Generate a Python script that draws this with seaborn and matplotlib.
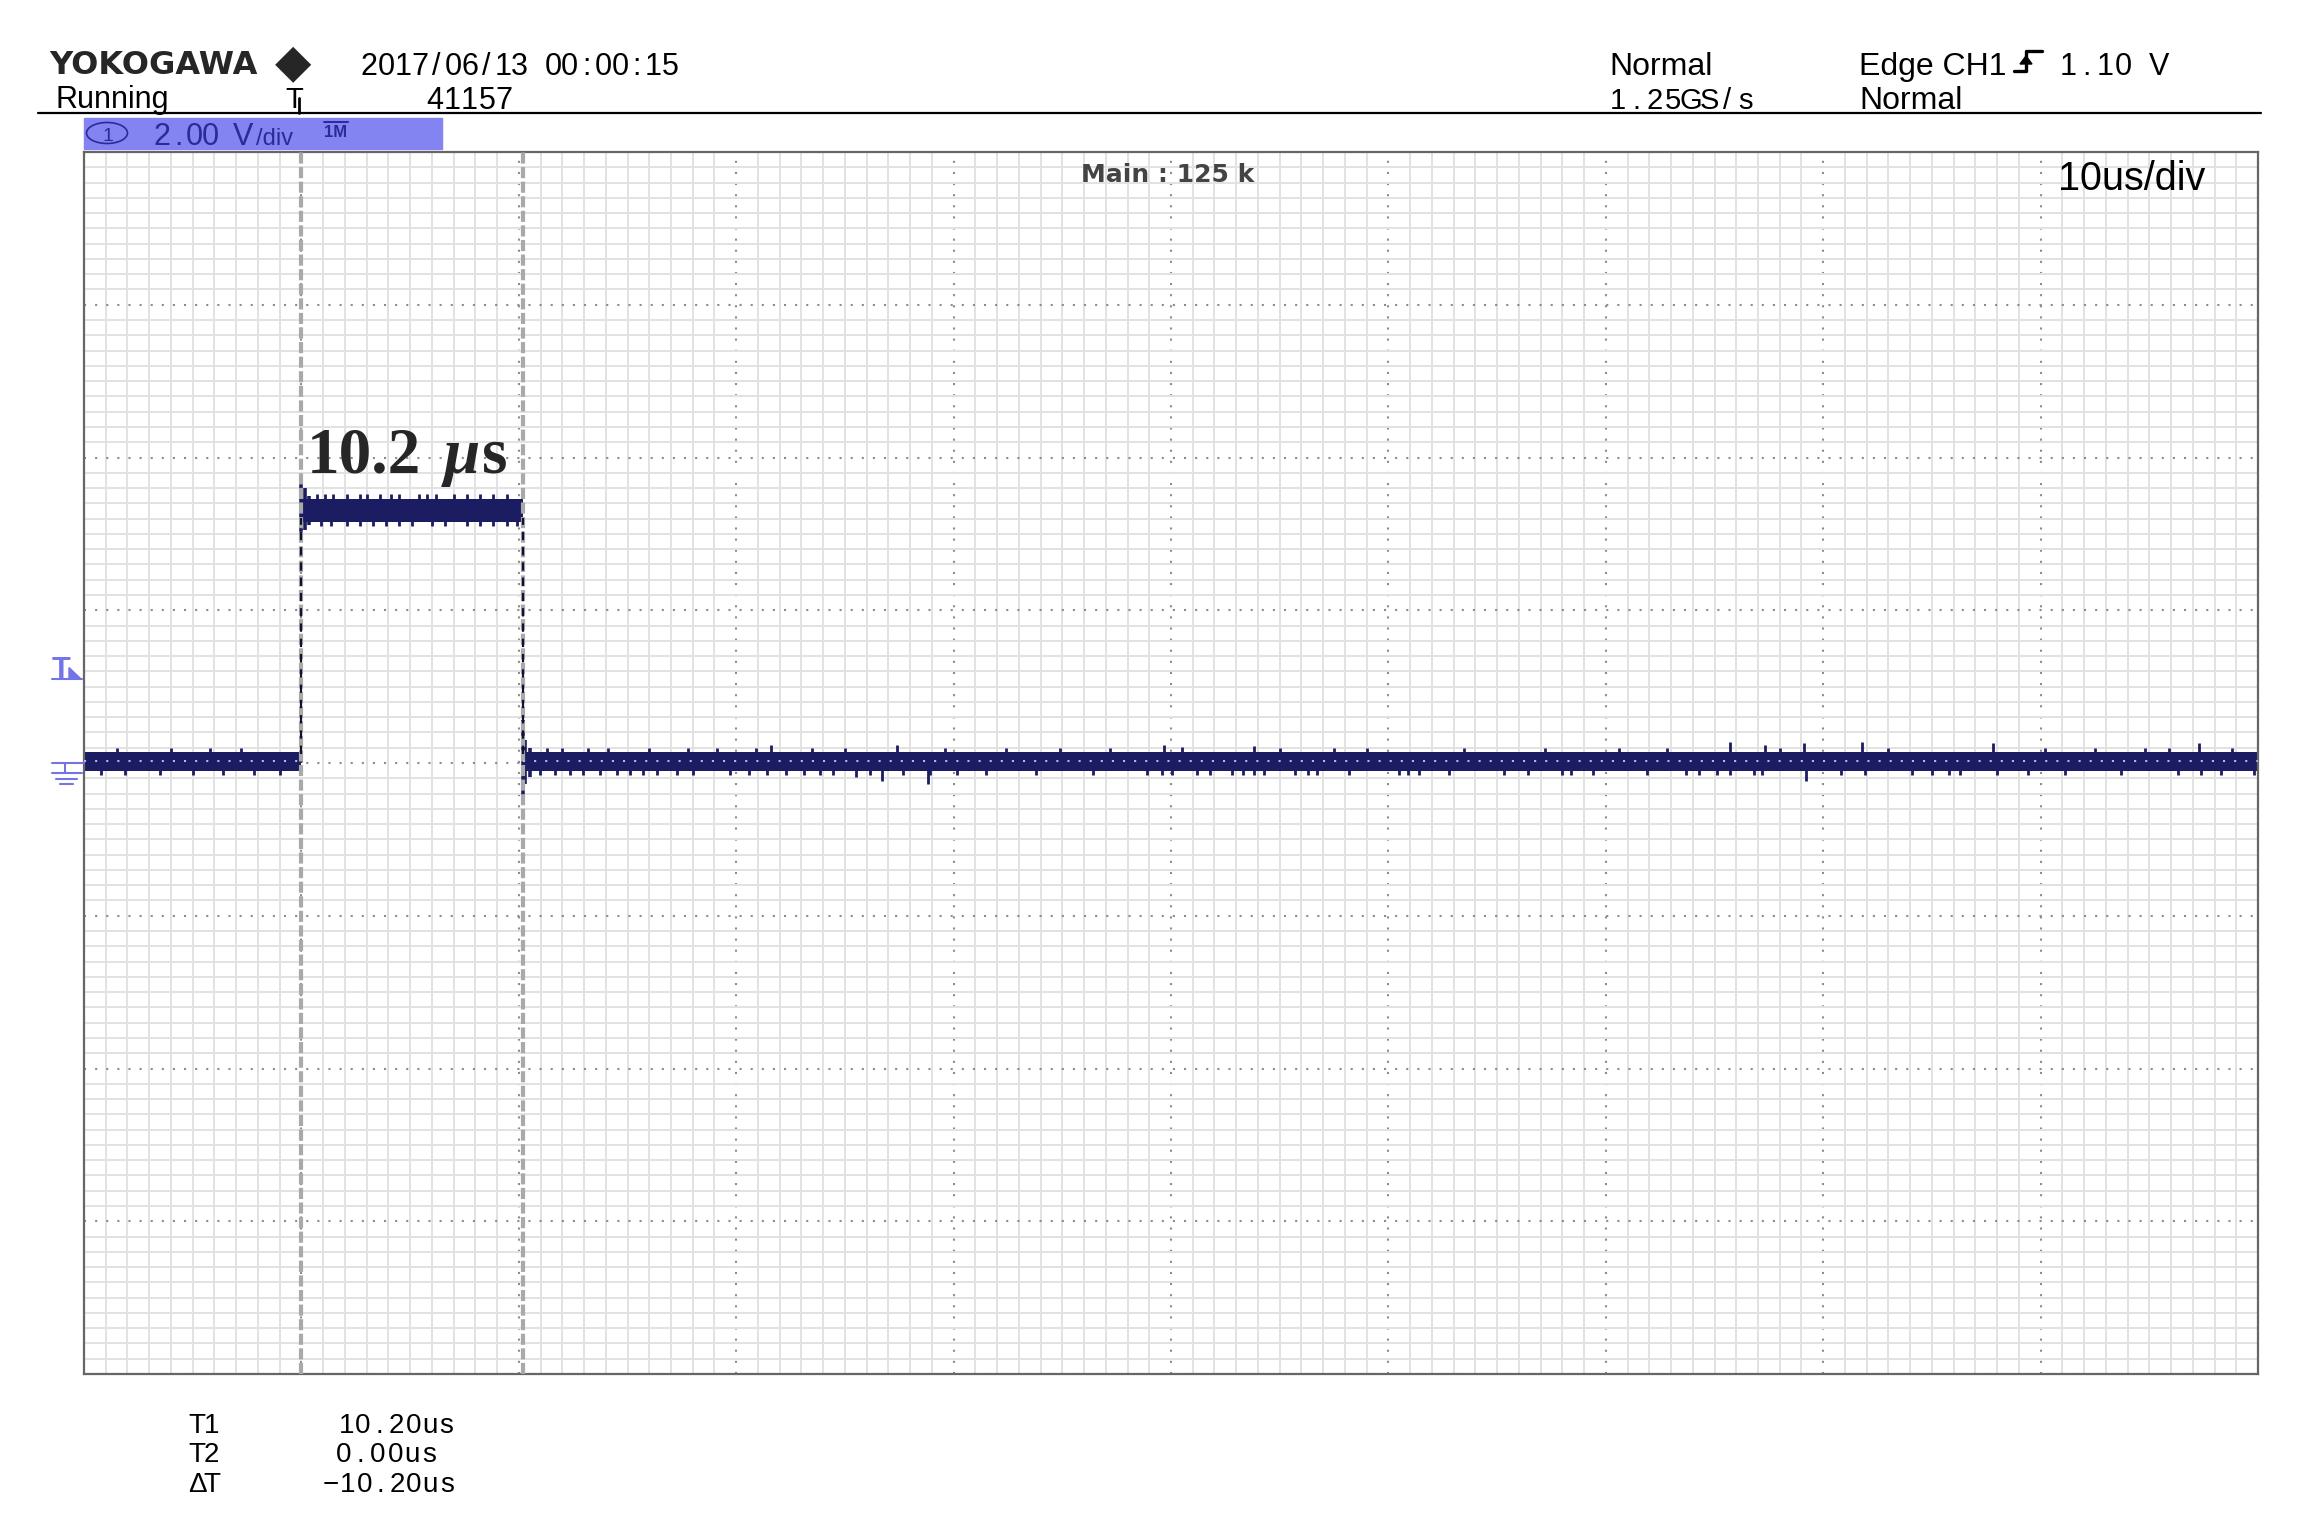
import numpy as np
import pandas as pd
import matplotlib.pyplot as plt
from matplotlib.lines import Line2D
from matplotlib.patches import Rectangle, Ellipse, Polygon
from matplotlib.transforms import blended_transform_factory
import seaborn as sns

# Waveform (time in us, level in V)
seg_start = [-10.0, 0.0, 10.2]
seg_end = [0.0, 10.2, 90.0]
seg_level = [0.02, 3.31, 0.02]
seg_noise = [0.12, 0.15, 0.12]   # half height of the noise band, V

# ringing right after the two edges
ring_t = [0.0, 0.15, 0.35, 10.2, 10.3, 10.5]
ring_lo = [3.0, 3.05, 3.12, -0.45, -0.28, -0.18]
ring_hi = [3.75, 3.6, 3.5, 0.56, 0.3, 0.2]

# small noise ticks sticking out of the band
tick_up_t = [-8.5, -6.0, -4.2, -2.8, 0.7, 1.1, 1.45, 2.1, 2.7, 3.0, 3.6, 4.1,
             4.5, 5.4, 5.8, 6.2, 7.0, 7.6, 8.2, 8.8, 9.45, 11.3, 12.0, 13.2,
             14.1, 16.0, 17.8, 19.1, 20.9, 23.5, 25.0, 29.6, 32.4, 34.9, 37.2,
             45.0, 47.5, 49.0, 53.5, 57.2, 60.6, 62.8, 68.0, 73.0, 80.2, 82.5,
             84.8, 85.9, 88.8]
tick_down_t = [-9.2, -8.1, -6.5, -5.0, -3.6, -2.2, -1.0, 0.9, 1.35, 2.1, 2.7,
               3.3, 3.9, 4.5, 5.1, 6.0, 6.6, 7.6, 8.2, 8.8, 9.45, 9.9, 10.97,
               11.67, 12.36, 12.95, 13.73, 14.5, 15.1, 15.7, 16.35, 17.27,
               18.0, 19.7, 20.6, 21.4, 22.3, 23.1, 23.85, 24.45, 26.15, 27.67,
               28.9, 30.15, 31.5, 33.8, 36.4, 38.9, 39.6, 40.05, 41.2, 41.8,
               42.8, 43.3, 43.8, 44.3, 45.7, 46.3, 46.7, 48.2, 50.5, 50.9,
               51.4, 52.8, 55.3, 56.4, 58.0, 58.4, 59.4, 61.9, 63.7, 64.3,
               65.1, 66.8, 67.2, 70.8, 71.9, 74.1, 75.0, 75.8, 76.3, 78.0,
               79.4, 81.1, 83.7, 86.3, 87.4, 88.3, 89.8]
tick_extra = 0.06   # how far a tick pokes out past the band, V

# bigger glitches
spike_t = [21.6, 27.4, 39.7, 40.5, 43.8, 65.7, 67.3, 69.1, 71.8, 77.8, 87.3,
           25.5, 26.7, 28.8, 65.7, 69.2]
spike_dv = [0.21, 0.21, 0.21, 0.19, 0.2, 0.26, 0.22, 0.24, 0.26, 0.24, 0.24,
            -0.2, -0.26, -0.3, -0.18, -0.25]

# scope settings
cursor_t1 = 10.2
cursor_t2 = 0.0
trigger_level = 1.10
volts_per_div = 2.0
us_per_div = 10
timestamp = "2017/06/13 00:00:15"
acq_count = "41157"
sample_rate = "1.25GS/s"
record_len = "125 k"

NAVY = "#1c1c62"
BLUE = "#7474ea"
SANS = ["Liberation Sans", "DejaVu Sans"]

sns.set_style("white")
plt.rcParams["font.family"] = SANS
plt.rcParams["lines.scale_dashes"] = False

W, H = 2317, 1535
fig = plt.figure(figsize=(W / 100, H / 100), dpi=100)
fig.patch.set_facecolor("white")


def fx(x):
    return x / W


def fy(y):
    return 1 - y / H


def mono(x, y, s, pitch, size=22, color="black"):
    # scope font is fixed pitch, so place every glyph in its own cell
    for i, ch in enumerate(s):
        if ch != " ":
            fig.text(fx(x + (i + 0.5) * pitch), fy(y), ch, fontsize=size,
                     color=color, ha="center", va="baseline", family=SANS)


def word(x, y, s, size=22, color="black", **kw):
    fig.text(fx(x), fy(y), s, fontsize=size, color=color, ha="left",
             va="baseline", family=SANS, **kw)


ax = fig.add_axes([fx(84), fy(1374), (2258 - 84) / W, (1374 - 152) / H])

# --------------------------------------
# Grid (10 x 8 divisions)
# --------------------------------------
ax.set_xlim(-us_per_div, 9 * us_per_div)
ax.set_ylim(-4 * volts_per_div, 4 * volts_per_div)
ax.set_xticks(np.arange(-10, 91, 10))
ax.set_xticks(np.arange(-10, 90.01, 1), minor=True)
ax.set_yticks(np.arange(-8, 8.01, 2))
ax.set_yticks(np.arange(-8, 8.01, 0.2), minor=True)
ax.tick_params(which="both", length=0, labelbottom=False, labelleft=False)
ax.grid(which="minor", color="#e2e2e2", lw=1.4)
ax.grid(which="major", color="#8c8c8c", lw=1.5, ls=(0, (1.5, 6.5)))
ax.set_axisbelow(True)
for sp in ax.spines.values():
    sp.set_color("#666666")
    sp.set_linewidth(1.6)

# --------------------------------------
# Waveform
# --------------------------------------
trace = pd.DataFrame({
    "t": seg_start + seg_end,
    "v": seg_level + seg_level,
    "seg": list(range(3)) + list(range(3)),
})
sns.lineplot(data=trace, x="t", y="v", units="seg", estimator=None,
             color=NAVY, lw=2, ax=ax, zorder=2)
ax.set_xlabel("")
ax.set_ylabel("")
for s, e, lv, nz in zip(seg_start, seg_end, seg_level, seg_noise):
    ax.fill_between([s, e], lv - nz, lv + nz, color=NAVY, lw=0, zorder=2)


def seg_at(t):
    return min(np.searchsorted(seg_end, t), len(seg_level) - 1)


up_base = [seg_level[seg_at(t)] for t in tick_up_t]
up_top = [seg_level[seg_at(t)] + seg_noise[seg_at(t)] + tick_extra for t in tick_up_t]
ax.vlines(tick_up_t, up_base, up_top, color=NAVY, lw=2, zorder=2)
dn_base = [seg_level[seg_at(t)] for t in tick_down_t]
dn_bot = [seg_level[seg_at(t)] - seg_noise[seg_at(t)] - tick_extra for t in tick_down_t]
ax.vlines(tick_down_t, dn_base, dn_bot, color=NAVY, lw=2, zorder=2)
sp_base = [seg_level[seg_at(t)] for t in spike_t]
ax.vlines(spike_t, sp_base, [b + d for b, d in zip(sp_base, spike_dv)],
          color=NAVY, lw=2, zorder=2)
ax.vlines(ring_t, ring_lo, ring_hi, color=NAVY, lw=2.6, zorder=2)

# cursors
ax.vlines([cursor_t2, cursor_t1], -8, 8, color="#a9a9a9", lw=3,
          linestyles=[(0, (8, 2.5))], zorder=3)

# fast edges show up as sparse dashes
edge_t = seg_end[:-1]
ax.vlines(edge_t, min(seg_level) + 0.1, max(seg_level) - 0.1, color="#111133",
          lw=1.6, linestyles=[(0, (6, 5))], zorder=4)

# 0 V dotted line shows through the trace
for s, e, lv in zip(seg_start, seg_end, seg_level):
    if lv < 1:
        ax.hlines(0.02, s, e, color="#b4b8e6", lw=1.5, ls=(0, (1.5, 6.5)), zorder=5)

# pulse width label
ax.text(0.25, 3.8, "10.2", family="Liberation Serif", weight="bold",
        fontsize=47, va="baseline", ha="left", zorder=6)
ax.text(6.55, 3.8, "\u03bc", family="Liberation Serif", weight="bold",
        style="italic", fontsize=47, va="baseline", ha="left", zorder=6)
ax.text(8.3, 3.8, "s", family="Liberation Serif", weight="bold",
        fontsize=47, va="baseline", ha="left", zorder=6)

# on-screen labels
fig.text(fx(1168), fy(182), "Main : " + record_len, family="DejaVu Sans",
         weight="bold", fontsize=18, color="#444444", ha="center", va="baseline")
word(2058, 190, f"{us_per_div}us/div", size=28.5)

# left markers: trigger level and ground
bt = blended_transform_factory(fig.transFigure, ax.transData)
fig.text(fx(61), trigger_level, "T", transform=bt, fontsize=22, color=BLUE,
         ha="center", va="baseline", weight="bold")
fig.add_artist(Polygon([[fx(69), trigger_level + 0.15], [fx(81), trigger_level],
                        [fx(69), trigger_level]], closed=True, color=BLUE,
                       transform=bt))
fig.add_artist(Line2D([fx(52), fx(82)], [trigger_level, trigger_level],
                      color=BLUE, lw=1.5, transform=bt))
for x0, x1, yv in [(52, 84, 0.0), (52, 82, -0.13), (56, 77, -0.21), (60, 73, -0.28)]:
    fig.add_artist(Line2D([fx(x0), fx(x1)], [yv, yv], color=BLUE, lw=1.5,
                          transform=bt))
fig.add_artist(Line2D([fx(65), fx(65)], [0.0, -0.13], color=BLUE, lw=1.5,
                      transform=bt))

# --------------------------------------
# Header
# --------------------------------------
fig.text(fx(49), fy(74), "YOKOGAWA", family="DejaVu Sans", weight="bold",
         fontsize=23, ha="left", va="baseline")
fig.text(fx(293), fy(64), "\u25c6", family="DejaVu Sans", fontsize=34,
         ha="center", va="center")
mono(361, 75, timestamp, 16.7)
word(56, 108, "Running")
word(285, 108, "T", size=21)
fig.add_artist(Line2D([fx(299), fx(299)], [fy(98), fy(113)], color="black", lw=2))
mono(426, 109, acq_count, 17.4)
word(1609, 75, "Normal", size=23)
mono(1609, 109, sample_rate, 18.2, size=21)
word(1859, 75, "Edge CH1", size=23)
mono(1859 + 11 * 18.2, 75, f"{trigger_level:.2f} V", 18.2)
word(1859, 109, "Normal", size=23)
# rising-slope symbol
fig.add_artist(Line2D([fx(2014), fx(2026), fx(2026), fx(2042)],
                      [fy(71), fy(71), fy(51), fy(51)], color="black", lw=2.4))
fig.add_artist(Polygon([[fx(2020), fy(64)], [fx(2032), fy(64)], [fx(2026), fy(56)]],
                       closed=True, color="black"))
fig.add_artist(Line2D([fx(38), fx(2261)], [fy(113), fy(113)], color="black", lw=1.6))

# channel badge
fig.add_artist(Rectangle((fx(84), fy(149)), (442 - 84) / W, 31 / H,
                         color="#8383f2", transform=fig.transFigure))
fig.add_artist(Ellipse((fx(107), fy(133)), 41 / W, 21 / H, fill=False,
                       edgecolor="#2a2a9a", lw=1.2, transform=fig.transFigure))
fig.text(fx(108), fy(141), "1", fontsize=14, color="#2a2a9a", ha="center",
         va="baseline")
mono(154, 145, f"{volts_per_div:.2f} V", 16.2, color="#2a2a9a")
word(256, 145, "/div", size=17, color="#2a2a9a")
fig.text(fx(336), fy(137), "1M", fontsize=12, color="#2a2a9a", ha="center",
         va="baseline", weight="bold")
fig.add_artist(Line2D([fx(324), fx(348)], [fy(122), fy(122)], color="#2a2a9a", lw=1.4))

# --------------------------------------
# Cursor readout
# --------------------------------------
mono(190, 1433, "T1", 14.5, size=20)
mono(190, 1462, "T2", 14.5, size=20)
mono(190, 1492, "\u0394T", 14.5, size=20)
mono(338, 1433, f"{cursor_t1:.2f}us", 16.7, size=20)
mono(335, 1462, f"{cursor_t2:.2f}us", 17.2, size=20)
mono(323, 1492, f"{cursor_t2 - cursor_t1:.2f}us".replace("-", "\u2212"), 16.5, size=20)

fig.savefig("out.png", dpi=100)
